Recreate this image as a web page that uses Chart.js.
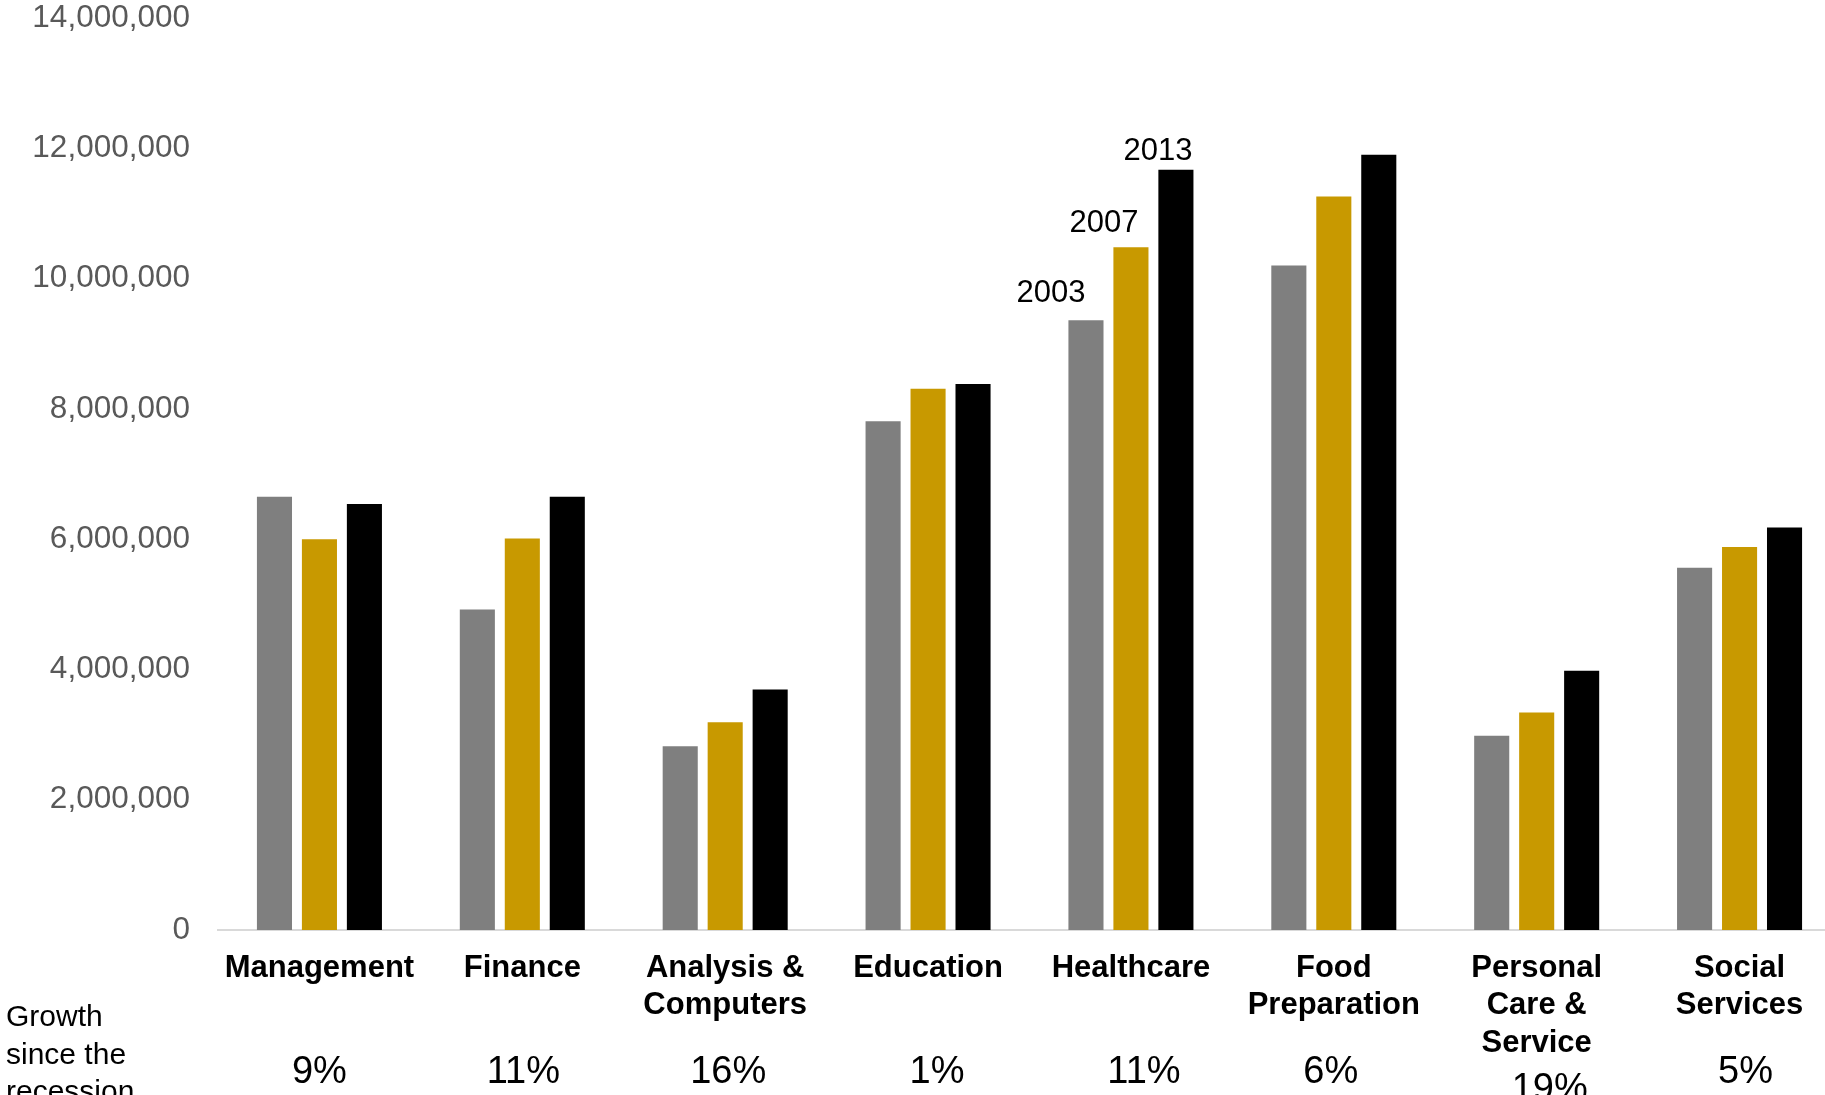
<!DOCTYPE html>
<html>
<head>
<meta charset="utf-8">
<script src="https://cdn.jsdelivr.net/npm/chart.js@4"></script>
<style>
html,body{margin:0;padding:0;background:#fff;overflow:hidden;}
#wrap{width:1845px;height:1095px;position:relative;}
</style>
</head>
<body>
<div id="wrap"><canvas id="chart"></canvas></div>
<script>
/* Data */
const categories=[
"Management",
"Finance",
["Analysis &","Computers"],
"Education",
"Healthcare",
["Food","Preparation"],
["Personal","Care &","Service"],
["Social","Services"]
];
const years=["2003","2007","2013"];
const jobs2003=[6650000,4920000,2820000,7810000,9360000,10200000,2980000,5560000];
const jobs2007=[6000000,6010000,3190000,8310000,10480000,11260000,3340000,5880000];
const jobs2013=[6540000,6650000,3690000,8380000,11670000,11900000,3980000,6180000];
const growth=["9%","11%","16%","1%","11%","6%","19%","5%"];
const yTicks=[0,2000000,4000000,6000000,8000000,10000000,12000000,14000000];

const FONT="'Liberation Sans', Arial, sans-serif";

/* Year labels above the Healthcare bars */
const yearLabels={
id:"yearLabels",
afterDatasetsDraw(chart){
const ctx=chart.ctx;
const idx=4;
const nudges=[[-35,18],[-27,15],[-18,10]];
ctx.save();
ctx.font="31px "+FONT;
ctx.fillStyle="#000";
ctx.textAlign="center";
ctx.textBaseline="alphabetic";
chart.data.datasets.forEach((ds,i)=>{
const bar=chart.getDatasetMeta(i).data[idx];
ctx.fillText(ds.label,bar.x+nudges[i][0],bar.y-nudges[i][1]);
});
ctx.restore();
}
};

/* Growth row under the axis */
const growthRow={
id:"growthRow",
afterDraw(chart){
const ctx=chart.ctx;
const xs=chart.scales.x;
const base=chart.chartArea.bottom;
const shift=[0,1,3,9,13,-3,13,6];
ctx.save();
ctx.fillStyle="#000";
ctx.textBaseline="alphabetic";
ctx.font="30px "+FONT;
ctx.textAlign="left";
["Growth","since the","recession"].forEach((t,i)=>{
ctx.fillText(t,6,base+96+i*37.5);
});
ctx.font="38px "+FONT;
ctx.textAlign="center";
growth.forEach((g,i)=>{
const lines=Array.isArray(categories[i])?categories[i].length:1;
ctx.fillText(g,xs.getPixelForValue(i)+shift[i],base+153+(lines>2?17:0));
});
ctx.restore();
}
};

new Chart(document.getElementById("chart"),{
type:"bar",
data:{
labels:categories,
datasets:[
{label:years[0],data:jobs2003,backgroundColor:"#7f7f7f"},
{label:years[1],data:jobs2007,backgroundColor:"#c89900"},
{label:years[2],data:jobs2013,backgroundColor:"#000000"}
]
},
options:{
responsive:true,
maintainAspectRatio:false,
animation:false,
layout:{padding:{top:18,right:4,left:0,bottom:0}},
datasets:{bar:{categoryPercentage:0.665,barPercentage:0.78}},
plugins:{legend:{display:false},tooltip:{enabled:false}},
scales:{
x:{
grid:{display:false,drawTicks:false},
border:{display:true,color:"#d9d9d9",width:2},
ticks:{
color:"#000",
font:{family:FONT,size:31,weight:"bold",lineHeight:1.2},
padding:20,
maxRotation:0,
autoSkip:false
},
afterFit(scale){scale.height=165;scale.paddingLeft=0;scale.paddingRight=0;}
},
y:{
min:0,
max:14000000,
grid:{display:false,drawTicks:false},
border:{display:false},
afterBuildTicks(scale){scale.ticks=yTicks.map(v=>({value:v}));},
ticks:{
color:"#595959",
font:{family:FONT,size:31.5},
padding:28,
callback:v=>v.toLocaleString("en-US")
},
afterFit(scale){scale.width=218;scale.paddingTop=0;scale.paddingBottom=0;}
}
}
},
plugins:[yearLabels,growthRow]
});
</script>
</body>
</html>
